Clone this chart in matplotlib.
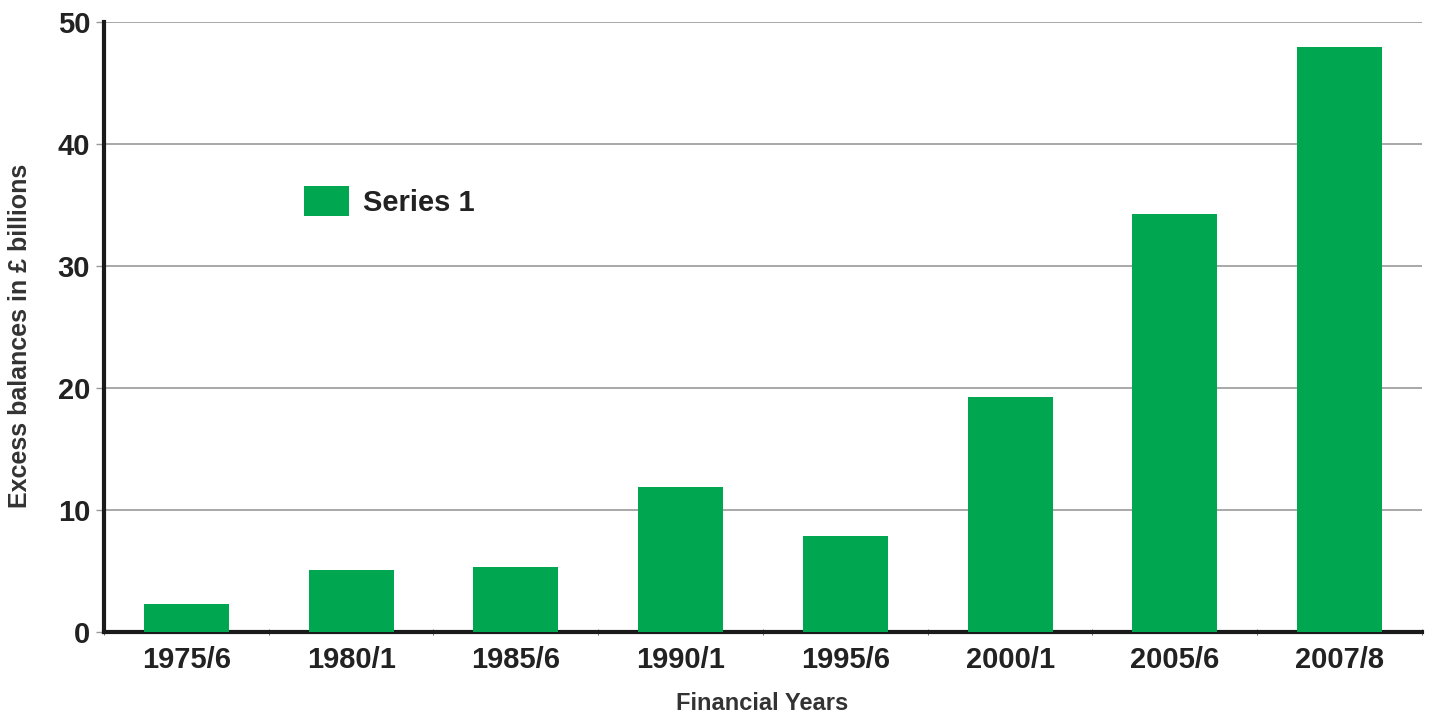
import matplotlib.pyplot as plt
import numpy as np

# financial years and excess balances (in £ billions)
years = ['1975/6', '1980/1', '1985/6', '1990/1', '1995/6', '2000/1', '2005/6', '2007/8']
balances = [2.3, 5.1, 5.3, 11.9, 7.9, 19.3, 34.3, 48.0]
yticks = [0, 10, 20, 30, 40, 50]

plt.rcParams['font.family'] = ['Liberation Sans', 'DejaVu Sans']
plt.rcParams['font.weight'] = 'bold'

fig = plt.figure(figsize=(14.32, 7.15), dpi=100)
ax = fig.add_axes([0.0726, 0.116, 0.9204, 0.853])

x = np.arange(len(years))
ax.bar(x, balances, width=0.515, color='#00a650', label='Series 1', zorder=3)

ax.set_xlim(-0.5, len(years) - 0.5)
ax.set_ylim(0, 50)
ax.set_yticks(yticks)
ax.set_xticks(x)
ax.set_xticklabels(years, fontsize=21, fontweight='bold', color='#222222')
ax.set_yticklabels([str(v) for v in yticks], fontsize=21, fontweight='bold', color='#222222')
ax.set_xticks(np.arange(len(years) + 1) - 0.5, minor=True)
ax.tick_params(axis='x', which='major', length=0, pad=10)
ax.tick_params(axis='x', which='minor', length=4, color='#555555', direction='inout')
ax.tick_params(axis='y', length=6, width=1, color='#999999', pad=4)

ax.yaxis.grid(True, color='#999999', linewidth=1.2, zorder=0)
ax.set_axisbelow(True)

for side in ['top', 'right']:
    ax.spines[side].set_visible(False)
ax.spines['left'].set_linewidth(3)
ax.spines['bottom'].set_linewidth(3)
ax.spines['left'].set_color('#1a1a1a')
ax.spines['bottom'].set_color('#1a1a1a')

# axis titles placed in figure coordinates
fig.text(762 / 1432, 1 - 704 / 715, 'Financial Years', fontsize=17, fontweight='bold',
         color='#333333', ha='center', va='center')
fig.text(20 / 1432, 1 - 336 / 715, 'Excess balances in £ billions', fontsize=18, fontweight='bold',
         color='#333333', ha='center', va='center', rotation=90)

ax.legend(loc='upper left', bbox_to_anchor=(0.132, 0.775), frameon=False,
          prop={'size': 21, 'weight': 'bold'}, handlelength=1.55, handleheight=1.25,
          handletextpad=0.45, labelcolor='#222222')

fig.savefig('out.png', dpi=100)
